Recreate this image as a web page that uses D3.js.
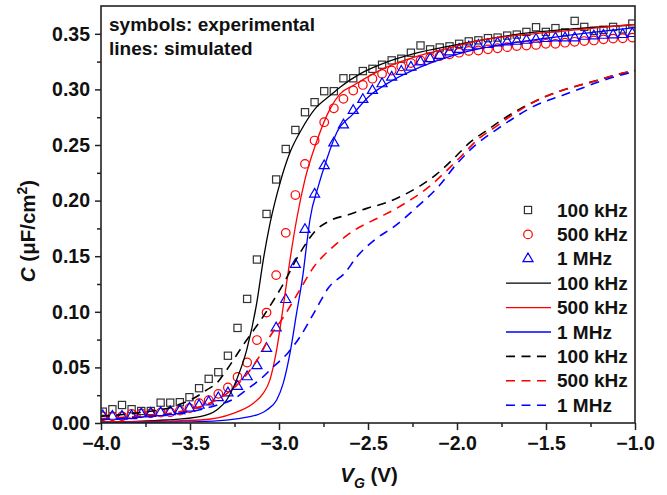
<!DOCTYPE html>
<html>
<head>
<meta charset="utf-8">
<script src="https://cdn.jsdelivr.net/npm/d3@7"></script>
<style>
  html, body { margin: 0; padding: 0; background: #fff; }
  svg { display: block; }
  text { font-family: "Liberation Sans", Arial, Helvetica, sans-serif; font-weight: bold; }
</style>
</head>
<body>
<svg id="chart" width="667" height="495"></svg>
<script>
// ---------- DATA ----------
const voltages = [-3.990,-3.936,-3.882,-3.828,-3.774,-3.720,-3.665,-3.611,-3.557,-3.503,
  -3.449,-3.395,-3.341,-3.287,-3.233,-3.179,-3.124,-3.070,-3.016,-2.962,
  -2.908,-2.854,-2.800,-2.746,-2.692,-2.638,-2.583,-2.529,-2.475,-2.421,
  -2.367,-2.313,-2.259,-2.205,-2.151,-2.097,-2.042,-1.988,-1.934,-1.880,
  -1.826,-1.772,-1.718,-1.664,-1.610,-1.556,-1.501,-1.447,-1.393,-1.339,
  -1.285,-1.231,-1.177,-1.123,-1.069,-1.015];

const exp100k = [0.0102,0.0124,0.0162,0.0124,0.0108,0.0108,0.0183,0.0183,0.0187,0.0232,
  0.0313,0.0397,0.0457,0.0605,0.0855,0.1116,0.147,0.188,0.219,0.2464,
  0.2635,0.2795,0.2885,0.2984,0.2984,0.310,0.310,0.3165,0.3185,0.3222,
  0.3261,0.3276,0.333,0.3395,0.336,0.3377,0.3387,0.341,0.3432,0.3441,
  0.3461,0.3466,0.3484,0.3493,0.3517,0.3559,0.3517,0.3551,0.3513,0.3616,
  0.3562,0.3527,0.3536,0.3562,0.354,0.3592];

const exp500k = [0.006,0.006,0.006,0.0081,0.0087,0.0087,0.0093,0.0097,0.0111,0.0133,
  0.0178,0.0205,0.0262,0.032,0.0414,0.0544,0.0746,0.0993,0.133,0.171,
  0.205,0.233,0.254,0.2705,0.283,0.2915,0.299,0.304,0.3096,0.314,
  0.317,0.3207,0.3237,0.3261,0.3283,0.330,0.3315,0.333,0.3346,0.335,
  0.336,0.337,0.338,0.339,0.3395,0.340,0.341,0.341,0.342,0.3428,
  0.3435,0.344,0.345,0.3457,0.346,0.3466];

const exp1M = [0.0065,0.006,0.006,0.0065,0.0081,0.0087,0.0093,0.0102,0.0111,0.0133,
  0.0159,0.0188,0.0227,0.027,0.0328,0.0415,0.0515,0.067,0.0855,0.111,
  0.1426,0.174,0.2058,0.2313,0.2518,0.268,0.281,0.2909,0.299,0.305,
  0.311,0.3162,0.320,0.3246,0.3276,0.3306,0.3337,0.336,0.3382,0.3396,
  0.3403,0.3418,0.3427,0.3432,0.3441,0.345,0.3457,0.3463,0.3463,0.3463,
  0.3477,0.348,0.3486,0.349,0.3493,0.3502];

// simulated, solid lines: [V, C]
const simSolid100k = [[-4.0,0.001],[-3.8,0.0015],[-3.631,0.0027],[-3.444,0.0057],[-3.35,0.0117],
  [-3.294,0.0207],[-3.238,0.039],[-3.181,0.066],[-3.125,0.108],[-3.088,0.147],[-3.051,0.179],
  [-2.994,0.216],[-2.938,0.2434],[-2.872,0.2644],[-2.798,0.2825],[-2.713,0.2945],[-2.657,0.302],
  [-2.545,0.314],[-2.395,0.3246],[-2.246,0.332],[-2.021,0.3396],[-1.871,0.3441],[-1.59,0.351],
  [-1.3,0.355],[-1.0,0.3583]];
const simSolid500k = [[-4.0,0.0008],[-3.7,0.0015],[-3.444,0.0027],[-3.257,0.0087],[-3.144,0.0178],
  [-3.088,0.0268],[-3.051,0.0388],[-3.013,0.066],[-2.976,0.105],[-2.938,0.147],[-2.901,0.183],
  [-2.854,0.219],[-2.79,0.2524],[-2.713,0.2825],[-2.657,0.296],[-2.583,0.3035],[-2.395,0.32],
  [-2.207,0.3306],[-2.021,0.3382],[-1.871,0.3441],[-1.5,0.351],[-1.2,0.3555],[-1.0,0.3585]];
const simSolid1M = [[-4.0,0.0003],[-3.444,0.0012],[-3.163,0.0057],[-3.069,0.0117],[-3.013,0.0207],
  [-2.976,0.0358],[-2.938,0.063],[-2.901,0.099],[-2.864,0.135],[-2.845,0.160],[-2.826,0.183],
  [-2.779,0.213],[-2.732,0.237],[-2.676,0.261],[-2.583,0.278],[-2.489,0.2945],[-2.395,0.305],
  [-2.207,0.320],[-2.021,0.3306],[-1.871,0.3366],[-1.5,0.346],[-1.2,0.352],[-1.0,0.3555]];

// simulated, dashed lines: [V, C]
const simDash100k = [[-4.0,0.006],[-3.8,0.009],[-3.6,0.0145],[-3.45,0.025],[-3.406,0.0298],
  [-3.35,0.0358],[-3.294,0.0478],[-3.2,0.0704],[-3.088,0.096],[-2.976,0.125],[-2.882,0.153],
  [-2.788,0.174],[-2.713,0.182],[-2.601,0.1877],[-2.507,0.193],[-2.395,0.1983],[-2.301,0.2049],
  [-2.207,0.2133],[-2.114,0.2238],[-2.021,0.2374],[-1.927,0.2524],[-1.833,0.263],[-1.739,0.2735],
  [-1.646,0.2825],[-1.552,0.29],[-1.439,0.2976],[-1.327,0.303],[-1.215,0.308],[-1.103,0.3132],
  [-1.0,0.317]];
const simDash500k = [[-4.0,0.004],[-3.8,0.006],[-3.6,0.009],[-3.444,0.0147],[-3.35,0.0208],
  [-3.257,0.031],[-3.18,0.044],[-3.11,0.06],[-3.05,0.078],[-2.976,0.095],[-2.882,0.12],
  [-2.806,0.14],[-2.7,0.158],[-2.57,0.174],[-2.44,0.1847],[-2.349,0.1922],[-2.255,0.2013],
  [-2.162,0.2118],[-2.068,0.2254],[-1.974,0.2403],[-1.88,0.2554],[-1.786,0.266],[-1.68,0.278],
  [-1.552,0.29],[-1.439,0.2976],[-1.327,0.303],[-1.215,0.308],[-1.103,0.3132],[-1.0,0.317]];
const simDash1M = [[-4.0,0.003],[-3.8,0.005],[-3.6,0.008],[-3.444,0.012],[-3.35,0.016],
  [-3.25,0.022],[-3.165,0.032],[-3.1,0.04],[-3.03,0.0508],[-2.95,0.063],[-2.88,0.078],
  [-2.8,0.1],[-2.72,0.122],[-2.63,0.135],[-2.56,0.15],[-2.46,0.165],[-2.35,0.177],
  [-2.22,0.195],[-2.1,0.2133],[-2.01,0.2314],[-1.9,0.2494],[-1.786,0.263],[-1.674,0.275],
  [-1.56,0.2855],[-1.41,0.2945],[-1.3,0.301],[-1.2,0.307],[-1.1,0.312],[-1.0,0.316]];

const xTicks = [-4.0, -3.5, -3.0, -2.5, -2.0, -1.5, -1.0];
const yTicks = [0.00, 0.05, 0.10, 0.15, 0.20, 0.25, 0.30, 0.35];
const legendLabels = ["100 kHz", "500 kHz", "1 MHz", "100 kHz", "500 kHz", "1 MHz", "100 kHz", "500 kHz", "1 MHz"];
const colors = ["#333333", "#ff0000", "#0000ff"];
const lineColors = ["#000000", "#ff0000", "#0000ff"];

// ---------- LAYOUT ----------
const svg = d3.select("#chart");
const L = 101, R = 635, T = 6, B = 423;
const x = d3.scaleLinear().domain([-4, -1]).range([L, R]);
const y = d3.scaleLinear().domain([0, 0.375]).range([B, T]);

const plot = svg.append("g");
svg.append("defs").append("clipPath").attr("id", "clip")
  .append("rect").attr("x", L).attr("y", T).attr("width", R - L).attr("height", B - T);
const inner = plot.append("g").attr("clip-path", "url(#clip)");

// markers
const expSeries = [exp100k, exp500k, exp1M];
const symbolTypes = ["square", "circle", "triangle"];
function drawMarker(g, type, cx, cy, color) {
  if (type === "square") {
    g.append("rect").attr("x", cx - 3.6).attr("y", cy - 3.6).attr("width", 7.2).attr("height", 7.2)
      .attr("fill", "none").attr("stroke", color).attr("stroke-width", 1.2);
  } else if (type === "circle") {
    g.append("circle").attr("cx", cx).attr("cy", cy).attr("r", 4.3)
      .attr("fill", "none").attr("stroke", color).attr("stroke-width", 1.2);
  } else {
    g.append("path").attr("d", d3.symbol().type(d3.symbolTriangle).size(44)())
      .attr("transform", `translate(${cx},${cy})`)
      .attr("fill", "none").attr("stroke", color).attr("stroke-width", 1.2);
  }
}
expSeries.forEach((vals, si) => {
  const g = inner.append("g");
  vals.forEach((c, i) => drawMarker(g, symbolTypes[si], x(voltages[i]), y(c), colors[si]));
});

// lines
const line = d3.line().x(d => x(d[0])).y(d => y(d[1])).curve(d3.curveMonotoneX);
[simSolid100k, simSolid500k, simSolid1M].forEach((data, i) => {
  inner.append("path").attr("d", line(data)).attr("fill", "none")
    .attr("stroke", lineColors[i]).attr("stroke-width", 1.3);
});
[simDash100k, simDash500k, simDash1M].forEach((data, i) => {
  inner.append("path").attr("d", line(data)).attr("fill", "none")
    .attr("stroke", lineColors[i]).attr("stroke-width", 1.6).attr("stroke-dasharray", "9,6.5");
});

// axes
const xAxis = d3.axisBottom(x).tickValues(xTicks).tickFormat(d3.format(".1f")).tickSize(7).tickPadding(6);
const xMinor = d3.axisBottom(x).tickValues(d3.range(-3.75, -1, 0.5)).tickFormat("").tickSize(4);
const yAxis = d3.axisLeft(y).tickValues(yTicks).tickFormat(d3.format(".2f")).tickSize(6).tickPadding(5);
const yMinor = d3.axisLeft(y).tickValues(d3.range(0.025, 0.36, 0.05)).tickFormat("").tickSize(4);

function styleAxis(g) {
  g.select(".domain").remove();
  g.selectAll("line").attr("stroke", "#222").attr("stroke-width", 1.5);
  g.selectAll("text").attr("fill", "#111").style("font-size", "19.5px").style("font-weight", "bold")
    .style("font-family", '"Liberation Sans", Arial, sans-serif');
}
svg.append("g").attr("transform", `translate(0,${B})`).call(xAxis).call(styleAxis);
svg.append("g").attr("transform", `translate(0,${B})`).call(xMinor).call(styleAxis);
svg.append("g").attr("transform", `translate(${L},0)`).call(yAxis).call(styleAxis);
svg.append("g").attr("transform", `translate(${L},0)`).call(yMinor).call(styleAxis);

// frame
svg.append("rect").attr("x", L).attr("y", T).attr("width", R - L).attr("height", B - T)
  .attr("fill", "none").attr("stroke", "#222").attr("stroke-width", 1.6);

// annotation
svg.append("text").attr("x", 109).attr("y", 31).attr("font-size", 19).attr("fill", "#111").text("symbols: experimental");
svg.append("text").attr("x", 109).attr("y", 55).attr("font-size", 19).attr("fill", "#111").text("lines: simulated");

// legend
const legY0 = 210, legStep = 24.4;
legendLabels.forEach((lab, i) => {
  const cy = legY0 + i * legStep;
  const g = svg.append("g");
  const k = i % 3;
  if (i < 3) {
    drawMarker(g, symbolTypes[k], 528, cy, colors[k]);
  } else if (i < 6) {
    g.append("line").attr("x1", 506).attr("x2", 551).attr("y1", cy).attr("y2", cy)
      .attr("stroke", lineColors[k]).attr("stroke-width", 1.3);
  } else {
    g.append("line").attr("x1", 506).attr("x2", 551).attr("y1", cy).attr("y2", cy)
      .attr("stroke", lineColors[k]).attr("stroke-width", 1.6).attr("stroke-dasharray", "9,6.5");
  }
  g.append("text").attr("x", 557).attr("y", cy).attr("dy", "0.35em").attr("font-size", 19)
    .attr("fill", "#111").text(lab);
});

// axis titles
const yt = svg.append("text").attr("transform", "translate(35,231) rotate(-90)")
  .attr("text-anchor", "middle").attr("font-size", 20.5).attr("fill", "#111");
yt.append("tspan").style("font-style", "italic").text("C");
yt.append("tspan").text(" (\u03bcF/cm");
yt.append("tspan").attr("dy", -8).attr("font-size", 14).text("2");
yt.append("tspan").attr("dy", 8).text(")");

const xt = svg.append("text").attr("x", 369).attr("y", 482)
  .attr("text-anchor", "middle").attr("font-size", 20.5).attr("fill", "#111");
xt.append("tspan").style("font-style", "italic").text("V");
xt.append("tspan").attr("dy", 6).attr("font-size", 14).style("font-style", "italic").text("G");
xt.append("tspan").attr("dy", -6).text(" (V)");
</script>
</body>
</html>
